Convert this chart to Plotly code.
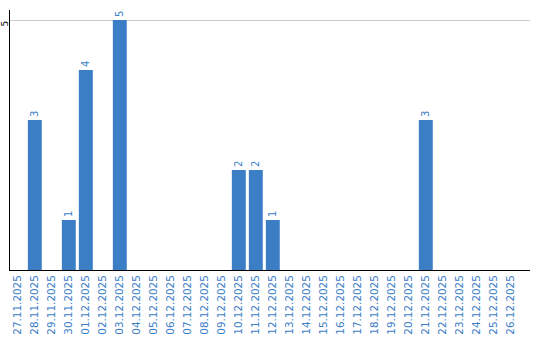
import plotly.graph_objects as go

dates = ["27.11.2025", "28.11.2025", "29.11.2025", "30.11.2025", "01.12.2025", "02.12.2025",
         "03.12.2025", "04.12.2025", "05.12.2025", "06.12.2025", "07.12.2025", "08.12.2025",
         "09.12.2025", "10.12.2025", "11.12.2025", "12.12.2025", "13.12.2025", "14.12.2025",
         "15.12.2025", "16.12.2025", "17.12.2025", "18.12.2025", "19.12.2025", "20.12.2025",
         "21.12.2025", "22.12.2025", "23.12.2025", "24.12.2025", "25.12.2025", "26.12.2025"]
counts = [0, 3, 0, 1, 4, 0, 5, 0, 0, 0, 0, 0, 0, 2, 2, 1, 0, 0, 0, 0, 0, 0, 0, 0, 3, 0, 0, 0, 0, 0]
labels = [str(v) if v else "" for v in counts]

BLUE = "#3b7ec6"
FONT = "DejaVu Sans"

fig = go.Figure(go.Bar(
    x=dates, y=counts, text=labels, textposition="outside", textangle=-90,
    textfont=dict(family=FONT, size=10, color=BLUE),
    marker=dict(color=BLUE, line=dict(width=0)),
    width=0.82, cliponaxis=False, hoverinfo="x+y",
))

fig.update_layout(
    width=540, height=340,
    margin=dict(l=10, r=10, t=10, b=70),
    paper_bgcolor="white", plot_bgcolor="white",
    showlegend=False,
    font=dict(family=FONT, size=10),
)
fig.update_xaxes(
    type="category", range=[-0.46, 30.13],
    tickangle=-90, tickfont=dict(family=FONT, size=10.4, color=BLUE),
    showline=True, linecolor="black", linewidth=1,
    ticks="", showgrid=False, automargin=False,
)
fig.update_yaxes(
    range=[0, 5.2], tickvals=[5], ticktext=["5"], tickangle=-90,
    tickfont=dict(family=FONT, size=9, color="black"),
    showline=True, linecolor="black", linewidth=1,
    showgrid=True, gridcolor="#cccccc", gridwidth=1,
    zeroline=False, ticks="", automargin=False, ticklabelstandoff=-3,
    ticklabelshift=5,
)

fig.write_html("out.html")
